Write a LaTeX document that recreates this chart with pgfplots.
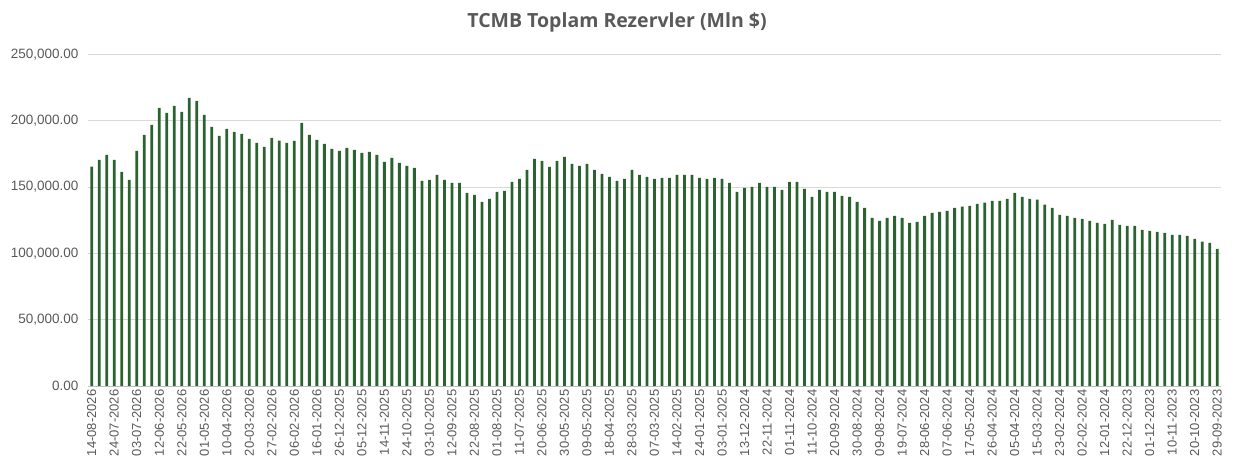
\documentclass[border=0pt]{standalone}
\usepackage{pgfplots}
\usepackage{pgfplotstable}
\usepackage{fontspec}
\pgfplotsset{compat=1.18}
\setmainfont{Liberation Sans}
\newfontfamily\titlefont{Open Sans}
\definecolor{bargreen}{HTML}{2A6230}
\definecolor{txtgray}{HTML}{595959}
\definecolor{gridgray}{HTML}{D9D9D9}
\definecolor{axisgray}{HTML}{BFBFBF}

% weekly reserves, newest first (x = 0 is 14-08-2026)
\pgfplotstableread{
x y
0 165500
1 170500
2 174300
3 170500
4 161500
5 155500
6 177300
7 189400
8 196900
9 209700
10 206000
11 211300
12 206700
13 217200
14 215000
15 204500
16 195400
17 188600
18 193900
19 191600
20 190200
21 186400
22 183400
23 180300
24 187200
25 185000
26 183400
27 184900
28 198500
29 189400
30 185700
31 182600
32 178900
33 177300
34 179600
35 178100
36 175800
37 176600
38 174300
39 169000
40 172000
41 168300
42 166000
43 164500
44 154700
45 155500
46 159200
47 155500
48 153200
49 153200
50 145700
51 144200
52 138900
53 141100
54 146400
55 147200
56 154000
57 156200
58 163000
59 171300
60 169800
61 165300
62 169800
63 172800
64 167500
65 166000
66 167500
67 163000
68 160000
69 157700
70 154700
71 156200
72 163000
73 159200
74 157700
75 156200
76 157000
77 157000
78 159200
79 159200
80 159200
81 157000
82 156200
83 157000
84 156200
85 153200
86 146400
87 149400
88 150200
89 153200
90 150200
91 150200
92 147900
93 154000
94 154000
95 148700
96 142700
97 147900
98 146400
99 146400
100 143400
101 142700
102 138900
103 134400
104 126800
105 124500
106 126800
107 128300
108 126800
109 123100
110 123800
111 128300
112 130600
113 131400
114 132100
115 134400
116 135200
117 135900
118 137400
119 138200
120 139700
121 139700
122 141200
123 145700
124 142700
125 141200
126 140500
127 136700
128 134400
129 129100
130 128300
131 126800
132 126100
133 124600
134 123100
135 122300
136 125300
137 121500
138 120800
139 120800
140 117800
141 117000
142 116300
143 115500
144 114000
145 114000
146 113300
147 111000
148 108800
149 108000
150 103500
}\reserves

\begin{document}
\begin{tikzpicture}
\useasboundingbox (0,0) rectangle (1234pt,466pt);
\node[font=\titlefont\bfseries\fontsize{19.5}{22}\selectfont, text=txtgray] at (617pt,444pt) {TCMB Toplam Rezervler (Mln \$)};
\begin{axis}[
  at={(88pt,80pt)}, anchor=south west,
  scale only axis,
  width=1133pt, height=331.5pt,
  ybar, bar width=2.8pt,
  xmin=-0.5, xmax=150.5,
  ymin=0, ymax=250000,
  ytick={0,50000,...,250000},
  scaled y ticks=false,
  ymajorgrids, grid style={gridgray, line width=0.8pt},
  axis line style={draw=none},
  axis x line*=bottom, axis y line*=left,
  major tick length=0pt,
  xtick={0,3,...,150},
  xticklabels={14-08-2026,24-07-2026,03-07-2026,12-06-2026,22-05-2026,01-05-2026,10-04-2026,20-03-2026,27-02-2026,06-02-2026,16-01-2026,26-12-2025,05-12-2025,14-11-2025,24-10-2025,03-10-2025,12-09-2025,22-08-2025,01-08-2025,11-07-2025,20-06-2025,30-05-2025,09-05-2025,18-04-2025,28-03-2025,07-03-2025,14-02-2025,24-01-2025,03-01-2025,13-12-2024,22-11-2024,01-11-2024,11-10-2024,20-09-2024,30-08-2024,09-08-2024,19-07-2024,28-06-2024,07-06-2024,17-05-2024,26-04-2024,05-04-2024,15-03-2024,23-02-2024,02-02-2024,12-01-2024,22-12-2023,01-12-2023,10-11-2023,20-10-2023,29-09-2023},
  xticklabel style={rotate=90, anchor=east, font=\fontsize{13}{15}\selectfont, text=txtgray},
  yticklabel style={font=\fontsize{13.5}{15}\selectfont, text=txtgray, xshift=-6pt},
  /pgf/number format/assume math mode=true,
  y tick label style={/pgf/number format/.cd, fixed, fixed zerofill, precision=2, 1000 sep={,}},
]
\addplot[draw=none, fill=bargreen] table[x=x, y=y] {\reserves};
\draw[axisgray, line width=0.8pt] (axis cs:-0.5,0) -- (axis cs:150.5,0);
\end{axis}
\end{tikzpicture}
\end{document}
